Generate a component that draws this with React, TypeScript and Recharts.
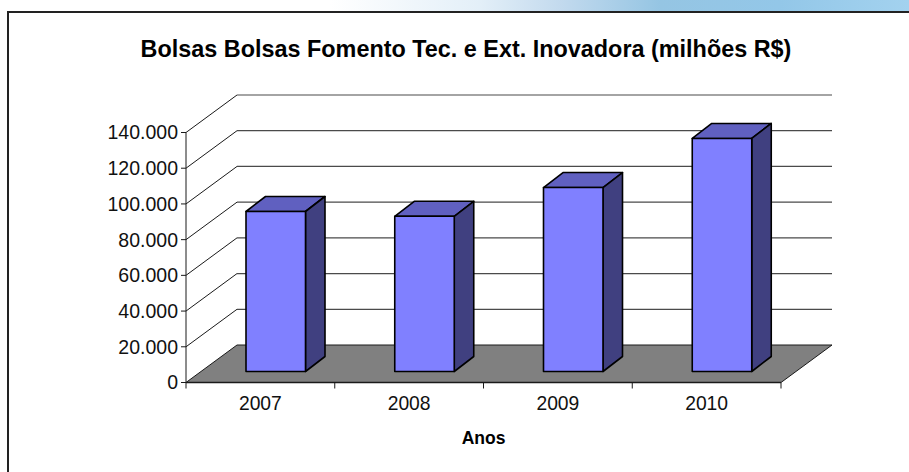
import { Bar, BarChart, CartesianGrid, XAxis, YAxis } from "recharts";

const anos = ["2007", "2008", "2009", "2010"];
const bolsas = [89600, 86900, 103000, 130500];
const yTicks = [0, 20000, 40000, 60000, 80000, 100000, 120000, 140000];

const COLORS = {
  front: "#8080ff",
  top: "#6060c0",
  side: "#404080",
  floor: "#808080",
  line: "#1a1a1a",
};

// profundidade do "3D" do Excel
const WALL_DX = 51;
const WALL_DY = 37.5;
const BAR_SHIFT_X = 15;
const BAR_SHIFT_Y = 11;
const BAR_DX = 19.5;
const BAR_DY = 15;

const FONT = "'Liberation Sans', Arial, sans-serif";

function formatTick(v: number): string {
  return v === 0 ? "0" : `${v / 1000}.000`;
}

// linha de grade: diagonal na parede lateral + horizontal na parede do fundo
function WallLine(props: any) {
  const { x1, x2, y1, index } = props;
  const isFloor = index === 0 || y1 > 380;
  return (
    <g key={`wall-${index}`}>
      {isFloor && (
        <path
          d={`M${x1},${y1} L${x1 + WALL_DX},${y1 - WALL_DY} L${x2 + WALL_DX},${y1 - WALL_DY} L${x2},${y1} Z`}
          fill={COLORS.floor}
          stroke={COLORS.line}
          strokeWidth={1}
        />
      )}
      {!isFloor && (
        <>
          <line x1={x1} y1={y1} x2={x1 + WALL_DX} y2={y1 - WALL_DY} stroke={COLORS.line} strokeWidth={1} />
          <line x1={x1 + WALL_DX} y1={y1 - WALL_DY} x2={x2 + WALL_DX} y2={y1 - WALL_DY} stroke="#4a4a4a" strokeWidth={1.2} />
        </>
      )}
    </g>
  );
}

function Bar3D(props: any) {
  const { x, y, width, height } = props;
  const left = x + BAR_SHIFT_X;
  const right = left + width;
  const top = y - BAR_SHIFT_Y;
  const bottom = top + height;
  return (
    <g stroke="#000" strokeWidth={1.6} strokeLinejoin="round">
      <path
        d={`M${left},${top} L${left + BAR_DX},${top - BAR_DY} L${right + BAR_DX},${top - BAR_DY} L${right},${top} Z`}
        fill={COLORS.top}
      />
      <path
        d={`M${right},${top} L${right + BAR_DX},${top - BAR_DY} L${right + BAR_DX},${bottom - BAR_DY} L${right},${bottom} Z`}
        fill={COLORS.side}
      />
      <rect x={left} y={top} width={width} height={height} fill={COLORS.front} />
    </g>
  );
}

// rótulo no centro da categoria, marca de escala nos limites
function AnoTick(props: any) {
  const { x, y, index, payload } = props;
  const half = payload.offset || 74.4;
  const axisY = y - 8;
  return (
    <g>
      <line x1={x - half} y1={axisY} x2={x - half} y2={axisY + 6} stroke={COLORS.line} />
      {index === anos.length - 1 && (
        <line x1={x + half} y1={axisY} x2={x + half} y2={axisY + 6} stroke={COLORS.line} />
      )}
      <text x={x} y={axisY + 27.5} textAnchor="middle" fontSize={19.3} fill="#111" fontFamily={FONT}>
        {payload.value}
      </text>
    </g>
  );
}

export default function App() {
  const rows = anos.map((ano, i) => ({ ano, valor: bolsas[i] }));

  return (
    <div
      style={{
        position: "fixed",
        left: 0,
        top: 0,
        width: 909,
        height: 472,
        background: "#fff",
        overflow: "hidden",
        fontFamily: FONT,
      }}
    >
      <div
        style={{
          position: "absolute",
          left: 0,
          top: 0,
          width: 909,
          height: 11,
          background:
            "linear-gradient(90deg, #ffffff 0px, #ffffff 330px, #e3eff8 480px, #c3daee 560px, #95c5e3 660px, #93c7e8 780px, #a3d2ef 909px)",
        }}
      />
      <div
        style={{
          position: "absolute",
          left: 7,
          top: 11,
          width: 902,
          height: 461,
          borderTop: "2px solid #222",
          borderLeft: "2px solid #222",
          boxSizing: "border-box",
        }}
      />
      <div
        style={{
          position: "absolute",
          left: 0,
          width: 932,
          top: 36,
          textAlign: "center",
          fontSize: 23.4,
          lineHeight: "26px",
          fontWeight: 700,
          color: "#000",
        }}
      >
        Bolsas Bolsas Fomento Tec. e Ext. Inovadora (milhões R$)
      </div>
      <div style={{ position: "absolute", left: 0, top: 0 }}>
        <BarChart
          width={909}
          height={472}
          data={rows}
          barSize={59.5}
          margin={{ top: 132.5, right: 128, bottom: 0, left: 0 }}
        >
          <CartesianGrid horizontal={WallLine} vertical={false} />
          <XAxis
            dataKey="ano"
            height={89.5}
            axisLine={{ stroke: COLORS.line, strokeWidth: 1.5 }}
            tickLine={false}
            tick={AnoTick}
            interval={0}
            label={{
              value: "Anos",
              position: "insideBottom",
              offset: 28,
              style: { fontSize: 17.5, fontWeight: 700, fill: "#000", fontFamily: FONT },
            }}
          />
          <YAxis
            width={186}
            domain={[0, 140000]}
            ticks={yTicks}
            interval={0}
            tickFormatter={formatTick}
            axisLine={{ stroke: COLORS.line }}
            tickLine={{ stroke: COLORS.line }}
            tickSize={5}
            tickMargin={3}
            tick={{ fontSize: 19.5, fill: "#111", fontFamily: FONT }}
          />
          <Bar dataKey="valor" shape={Bar3D} isAnimationActive={false} />
        </BarChart>
      </div>
    </div>
  );
}
